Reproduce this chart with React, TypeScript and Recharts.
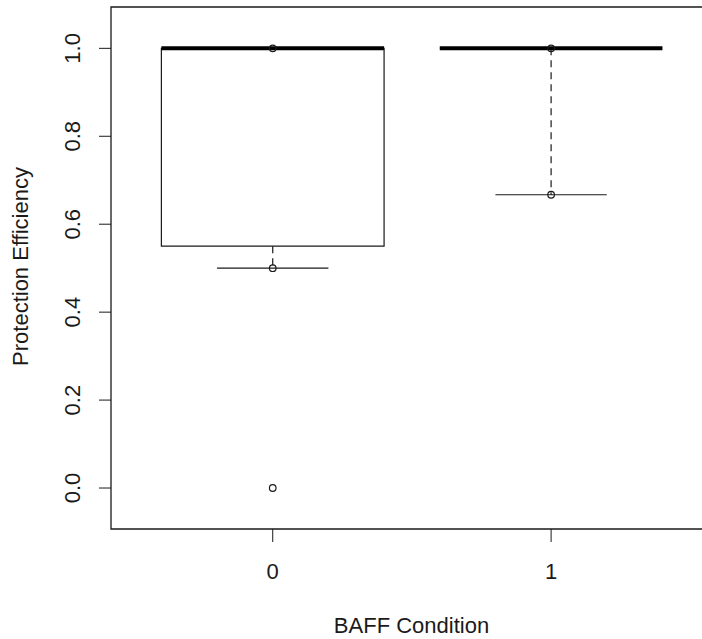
import React from 'react';
import { ScatterChart, Scatter, XAxis, YAxis, ReferenceArea, ReferenceLine } from 'recharts';

const categories = ['0', '1'];
const catPos = [0, 1];
const q1 = [0.55, 1.0];
const medians = [1.0, 1.0];
const q3 = [1.0, 1.0];
const whiskerLow = [0.5, 0.667];
const whiskerHigh = [1.0, 1.0];
const pointsGroup0 = [1.0, 0.5, 0.0];
const pointsGroup1 = [1.0, 0.667];
const yTicks = [0, 0.2, 0.4, 0.6, 0.8, 1.0];
const yTickLabels = ['0.0', '0.2', '0.4', '0.6', '0.8', '1.0'];

const X_DOMAIN: [number, number] = [-0.581, 1.578];
const Y_DOMAIN: [number, number] = [-0.0932, 1.094];
const BOX_HALF = 0.4;
const CAP_HALF = 0.2;
const FONT = '"Liberation Sans", Arial, sans-serif';
const INK = '#1a1a1a';

const scatterData = [
  ...pointsGroup0.map((v) => ({ x: catPos[0], y: v })),
  ...pointsGroup1.map((v) => ({ x: catPos[1], y: v })),
];

const OpenCircle = (props: any) => {
  const { cx, cy } = props;
  if (cx == null || cy == null) return null;
  return <circle cx={cx} cy={cy} r={3.3} fill="none" stroke={INK} strokeWidth={1.2} />;
};

const YTick = (props: any) => {
  const { y, payload } = props;
  const idx = yTicks.indexOf(payload.value);
  const label = idx >= 0 ? yTickLabels[idx] : String(payload.value);
  const bx = 80.5;
  return (
    <text
      x={bx}
      y={y}
      transform={`rotate(-90, ${bx}, ${y})`}
      textAnchor="middle"
      fontFamily={FONT}
      fontSize={22}
      fill={INK}
    >
      {label}
    </text>
  );
};

const XTick = (props: any) => {
  const { x, payload } = props;
  const idx = catPos.indexOf(payload.value);
  const label = idx >= 0 ? categories[idx] : String(payload.value);
  return (
    <text x={x} y={579} textAnchor="middle" fontFamily={FONT} fontSize={22} fill={INK}>
      {label}
    </text>
  );
};

export default function App() {
  return (
    <div
      style={{
        position: 'absolute',
        left: 0,
        top: 0,
        width: 702,
        height: 639,
        overflow: 'hidden',
        background: '#fff',
      }}
    >
      <ScatterChart width={720} height={639} margin={{ top: 7, right: 8, bottom: 0, left: 0 }}>
        <XAxis
          type="number"
          dataKey="x"
          domain={X_DOMAIN}
          ticks={catPos}
          allowDataOverflow
          axisLine={false}
          tickLine={{ stroke: INK, strokeWidth: 1 }}
          tickSize={13}
          height={110}
          tick={<XTick />}
          label={{
            content: () => (
              <text x={411.5} y={633} textAnchor="middle" fontFamily={FONT} fontSize={22} fill={INK}>
                BAFF Condition
              </text>
            ),
          }}
        />
        <YAxis
          type="number"
          dataKey="y"
          domain={Y_DOMAIN}
          ticks={yTicks}
          allowDataOverflow
          axisLine={false}
          tickLine={{ stroke: INK, strokeWidth: 1 }}
          tickSize={12}
          width={111}
          tick={<YTick />}
          label={{
            content: () => (
              <text
                x={28}
                y={266.5}
                transform={`rotate(-90, 28, 266.5)`}
                textAnchor="middle"
                fontFamily={FONT}
                fontSize={22}
                fill={INK}
              >
                Protection Efficiency
              </text>
            ),
          }}
        />
        {/* plot frame */}
        <ReferenceArea
          x1={X_DOMAIN[0]}
          x2={X_DOMAIN[1]}
          y1={Y_DOMAIN[0]}
          y2={Y_DOMAIN[1]}
          fill="none"
          fillOpacity={0}
          stroke={INK}
          strokeWidth={1.3}
          ifOverflow="visible"
        />
        {catPos.map((c, i) => (
          <ReferenceArea
            key={`box-${i}`}
            x1={c - BOX_HALF}
            x2={c + BOX_HALF}
            y1={q1[i]}
            y2={q3[i]}
            fill="none"
            fillOpacity={0}
            stroke={INK}
            strokeWidth={1.2}
            ifOverflow="visible"
          />
        ))}
        {catPos.map((c, i) => (
          <ReferenceLine
            key={`wl-${i}`}
            segment={[
              { x: c, y: q1[i] },
              { x: c, y: whiskerLow[i] },
            ]}
            stroke={INK}
            strokeWidth={1.2}
            strokeDasharray="7 5"
            ifOverflow="visible"
          />
        ))}
        {catPos.map((c, i) => (
          <ReferenceLine
            key={`wh-${i}`}
            segment={[
              { x: c, y: q3[i] },
              { x: c, y: whiskerHigh[i] },
            ]}
            stroke={INK}
            strokeWidth={1.2}
            strokeDasharray="7 5"
            ifOverflow="visible"
          />
        ))}
        {catPos.map((c, i) => (
          <ReferenceLine
            key={`cl-${i}`}
            segment={[
              { x: c - CAP_HALF, y: whiskerLow[i] },
              { x: c + CAP_HALF, y: whiskerLow[i] },
            ]}
            stroke={INK}
            strokeWidth={1.2}
            ifOverflow="visible"
          />
        ))}
        {catPos.map((c, i) => (
          <ReferenceLine
            key={`ch-${i}`}
            segment={[
              { x: c - CAP_HALF, y: whiskerHigh[i] },
              { x: c + CAP_HALF, y: whiskerHigh[i] },
            ]}
            stroke={INK}
            strokeWidth={1.2}
            ifOverflow="visible"
          />
        ))}
        {catPos.map((c, i) => (
          <ReferenceLine
            key={`med-${i}`}
            segment={[
              { x: c - BOX_HALF, y: medians[i] },
              { x: c + BOX_HALF, y: medians[i] },
            ]}
            stroke="#000"
            strokeWidth={4}
            ifOverflow="visible"
          />
        ))}
        <Scatter data={scatterData} dataKey="y" shape={<OpenCircle />} isAnimationActive={false} />
      </ScatterChart>
    </div>
  );
}
